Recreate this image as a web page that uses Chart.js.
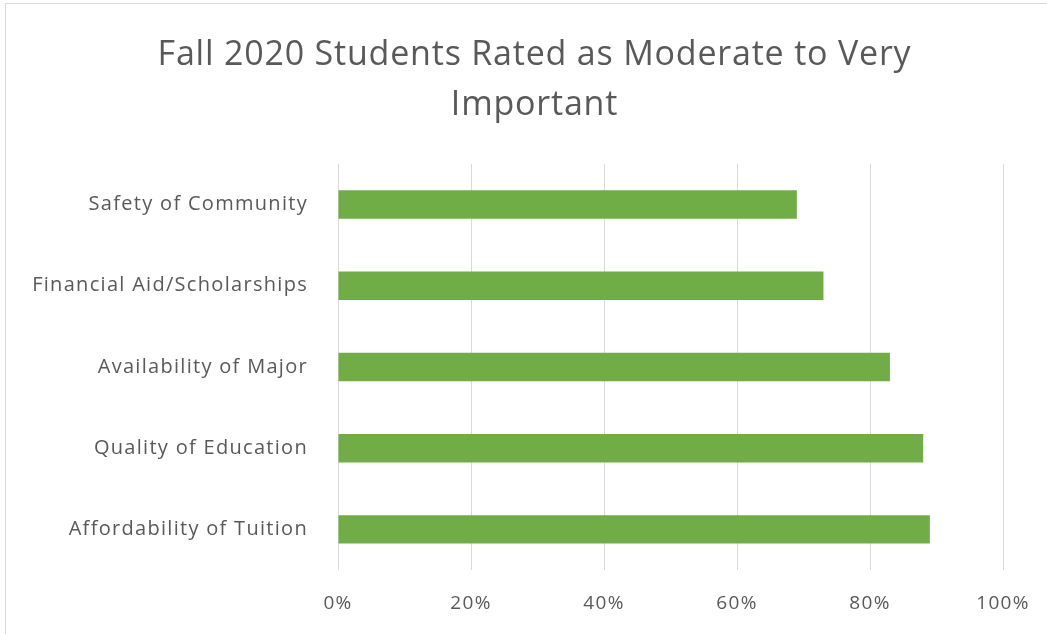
<!DOCTYPE html>
<html>
<head>
<meta charset="utf-8">
<script src="https://cdn.jsdelivr.net/npm/chart.js@4"></script>
<style>
  body { margin: 0; background: #ffffff; overflow: hidden; }
  #frame {
    position: absolute; left: 5px; top: 3px;
    width: 1042px; height: 631px;
    border: 1px solid #d9d9d9; border-right: none; border-bottom: none;
    box-sizing: border-box;
  }
  #chart1 { position: absolute; left: 0; top: 0; }
</style>
</head>
<body>
<div id="frame"></div>
<canvas id="chart1" width="1047" height="634"></canvas>
<script>
var categories = ['Safety of Community', 'Financial Aid/Scholarships', 'Availability of Major', 'Quality of Education', 'Affordability of Tuition'];
var values = [69, 73, 83, 88, 89];
var tickLabels = ['0%', '20%', '40%', '60%', '80%', '100%'];

var textColor = '#595959';
var fontFamily = '"Open Sans", Lato, sans-serif';

// the original text is spaced a little wider than Open Sans,
// and the title is centred over the plot rather than the whole canvas
var spacing = {
    id: 'spacing',
    beforeUpdate: function(chart) { chart.ctx.letterSpacing = '1.3px'; },
    afterLayout: function(chart) {
        var t = chart.titleBlock;
        if (!t) return;
        t.left += 28;
        t.right += 28;
        if (!t._wrapped) {
            var orig = t.draw;
            t.draw = function() {
                var c = this.ctx;
                c.letterSpacing = '0.8px';
                orig.apply(this, arguments);
                c.letterSpacing = '1.3px';
            };
            t._wrapped = true;
        }
    },
    beforeDraw: function(chart) { chart.ctx.letterSpacing = '1.3px'; }
};

var ctx1 = document.getElementById('chart1').getContext('2d');
var chart1 = new Chart(ctx1, {
    type: 'bar',
    data: {
        labels: categories,
        datasets: [{
            label: 'Moderate to Very Important',
            data: values,
            backgroundColor: '#70AD47',
            borderWidth: 0,
            barPercentage: 0.35,
            categoryPercentage: 1
        }]
    },
    plugins: [spacing],
    options: {
        indexAxis: 'y',
        responsive: false,
        animation: false,
        layout: {
            padding: { left: 10, right: 44, top: 8, bottom: 0 }
        },
        plugins: {
            legend: { display: false },
            tooltip: { enabled: false },
            title: {
                display: true,
                text: ['Fall 2020 Students Rated as Moderate to Very', 'Important'],
                color: textColor,
                font: { family: fontFamily, size: 34, weight: 'normal', lineHeight: 1.47 },
                padding: { top: 22, bottom: 34 }
            }
        },
        scales: {
            x: {
                min: 0,
                max: 100,
                grid: { color: '#d9d9d9', drawTicks: false, lineWidth: 1 },
                border: { display: false },
                afterFit: function(scale) {
                    scale.height = 64;
                    scale.paddingLeft = 0;
                    scale.paddingRight = 0;
                },
                ticks: {
                    stepSize: 20,
                    color: textColor,
                    padding: 22,
                    font: { family: fontFamily, size: 19 },
                    callback: function(value) {
                        return tickLabels[value / 20];
                    }
                }
            },
            y: {
                grid: { display: false, drawTicks: false },
                border: { display: false },
                afterFit: function(scale) { scale.width = 328; },
                ticks: {
                    color: textColor,
                    padding: 30,
                    font: { family: fontFamily, size: 20 }
                }
            }
        }
    }
});
</script>
</body>
</html>
